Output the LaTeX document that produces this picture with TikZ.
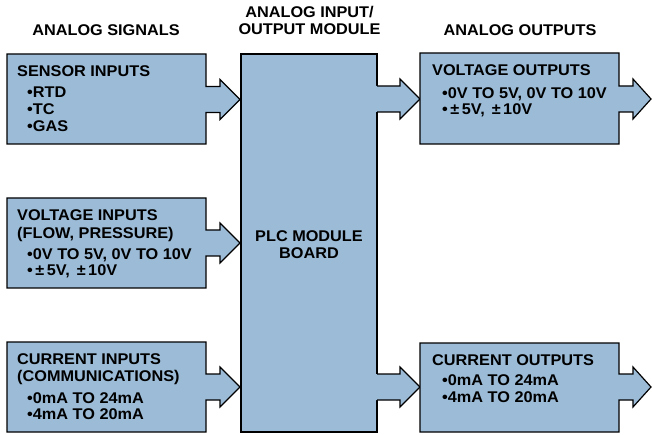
\documentclass[tikz,border=0pt]{standalone}
\usepackage{fontspec}
\setmainfont{Liberation Sans}[FakeStretch=1.05]
\definecolor{boxblue}{RGB}{155,187,215}
\newcommand{\pmk}{\kern2.5bp±\kern2.5bp}
\tikzset{
  blk/.style={fill=boxblue, draw=black, line width=1.2bp, line join=miter},
  txt/.style={inner sep=0pt, font=\bfseries\fontsize{15.5bp}{16.5bp}\selectfont},
  lbl/.style={txt, anchor=base west},
  hdr/.style={txt, anchor=base}
}
\begin{document}
\begin{tikzpicture}[x=1bp,y=-1bp]
\useasboundingbox (0,0) rectangle (652,435);
% headers
\node[hdr] (h1) at (106,36) {ANALOG SIGNALS};
\node[hdr] (h2a) at (309.5,17.7) {ANALOG INPUT/};
\node[hdr] (h2b) at (309.5,34.3) {OUTPUT MODULE};
\node[hdr] (h3) at (520,36) {ANALOG OUTPUTS};
% input boxes with block arrows
\draw[blk] (7,54) -- (206,54) -- (206,86.5) -- (220,86.5) -- (220,79.5) -- (240,99.5) -- (220,119.5) -- (220,112.5) -- (206,112.5) -- (206,144) -- (7,144) -- cycle;
\draw[blk] (7,198) -- (206,198) -- (206,230) -- (220,230) -- (220,223) -- (240,243) -- (220,263) -- (220,256) -- (206,256) -- (206,288) -- (7,288) -- cycle;
\draw[blk] (7,342) -- (206,342) -- (206,374) -- (220,374) -- (220,367) -- (240,387) -- (220,407) -- (220,400) -- (206,400) -- (206,432) -- (7,432) -- cycle;
% module
\draw[blk] (241,54) rectangle (377,432);
% module output arrows
\fill[boxblue] (376,86) -- (400,86) -- (400,79) -- (420,99) -- (400,119) -- (400,112) -- (376,112) -- cycle;
\draw[blk,fill=none] (377,86) -- (400,86) -- (400,79) -- (420,99) -- (400,119) -- (400,112) -- (377,112);
\fill[boxblue] (376,374) -- (400,374) -- (400,367) -- (420,387) -- (400,407) -- (400,400) -- (376,400) -- cycle;
\draw[blk,fill=none] (377,374) -- (400,374) -- (400,367) -- (420,387) -- (400,407) -- (400,400) -- (377,400);
% output boxes with block arrows
\draw[blk] (420,53) -- (619,53) -- (619,86) -- (633,86) -- (633,79) -- (651,99) -- (633,119) -- (633,112) -- (619,112) -- (619,144) -- (420,144) -- cycle;
\draw[blk] (420,343) -- (619,343) -- (619,374) -- (633,374) -- (633,367) -- (651,387) -- (633,407) -- (633,400) -- (619,400) -- (619,432) -- (420,432) -- cycle;
% sensor inputs text
\node[lbl] (s0) at (17,76.5) {SENSOR INPUTS};
\node[lbl] (s1) at (27,98) {•RTD};
\node[lbl] (s2) at (27,115) {•TC};
\node[lbl] (s3) at (27,131.5) {•GAS};
% voltage inputs text
\node[lbl] (v0) at (17,220.5) {VOLTAGE INPUTS};
\node[lbl] (v1) at (17,238.5) {(FLOW, PRESSURE)};
\node[lbl] (v2) at (27,259.5) {•0V TO 5V, 0V TO 10V};
\node[lbl] (v3) at (27,276) {•\pmk5V, \pmk10V};
% current inputs text
\node[lbl] (c0) at (17,364) {CURRENT INPUTS};
\node[lbl] (c1) at (17,381.5) {(COMMUNICATIONS)};
\node[lbl] (c2) at (27,403) {•0mA TO 24mA};
\node[lbl] (c3) at (27,419.5) {•4mA TO 20mA};
% module text
\node[hdr] (m1) at (309,242) {PLC MODULE};
\node[hdr] (m2) at (309,259) {BOARD};
% voltage outputs text
\node[lbl] (vo0) at (432,76) {VOLTAGE OUTPUTS};
\node[lbl] (vo1) at (442,98.5) {•0V TO 5V, 0V TO 10V};
\node[lbl] (vo2) at (442,115) {•\pmk5V, \pmk10V};
% current outputs text
\node[lbl] (co0) at (432,365) {CURRENT OUTPUTS};
\node[lbl] (co1) at (442,385.5) {•0mA TO 24mA};
\node[lbl] (co2) at (442,402) {•4mA TO 20mA};
\end{tikzpicture}
\end{document}
